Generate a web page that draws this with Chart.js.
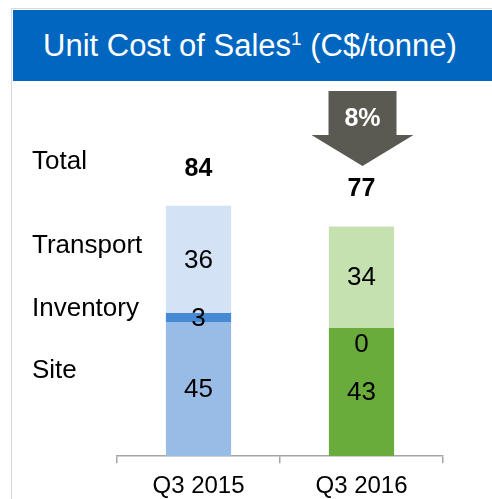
<!DOCTYPE html>
<html>
<head>
<meta charset="utf-8">
<script src="https://cdn.jsdelivr.net/npm/chart.js@4/dist/chart.umd.min.js"></script>
<style>
  html, body { margin: 0; padding: 0; background: #fff; }
  #wrap { position: relative; width: 492px; height: 499px; overflow: hidden; font-family: Arial, "Liberation Sans", sans-serif; }
  #frame { position: absolute; left: 11px; top: 8px; right: -2px; bottom: -2px; border-left: 1px solid #D9D9D9; border-top: 1px solid #D9D9D9; }
  #title { position: absolute; left: 13px; top: 10px; width: 479px; height: 71px; background: #0066BF; color: #fff;
           font-size: 31px; line-height: 71px; padding-left: 30px; box-sizing: border-box; white-space: nowrap; }
  #title sup { font-size: 19px; vertical-align: 0; position: relative; top: -11px; }
  #c { position: absolute; left: 0; top: 0; }
</style>
</head>
<body>
<div id="wrap">
  <div id="frame"></div>
  <canvas id="c" width="492" height="520"></canvas>
  <div id="title">Unit Cost of Sales<sup>1</sup> (C$/tonne)</div>
</div>
<script>
// ---- data ----
var categories = ['Q3 2015', 'Q3 2016'];
var site = [45, 43];
var inventory = [3, 0];
var transport = [36, 34];
var rowLabels = ['Total', 'Transport', 'Inventory', 'Site'];
var changeLabel = '8%';

// colours per bar (2015 blue, 2016 green)
var siteColors = ['#99BCE6', '#6AAC3C'];
var invColors = ['#4689D5', '#6AAC3C'];
var transColors = ['#D3E2F4', '#C6E1B0'];

var FONT = 'Arial, "Liberation Sans", sans-serif';
var INK = '#000';

// row captions on the left
var rowY = [162, 246, 309, 371];

var labelsPlugin = {
  id: 'labels',
  afterDatasetsDraw: function (chart) {
    var ctx = chart.ctx;
    ctx.save();
    ctx.textAlign = 'center';
    ctx.textBaseline = 'middle';
    ctx.fillStyle = INK;
    ctx.font = '26px ' + FONT;
    chart.data.datasets.forEach(function (ds, di) {
      chart.getDatasetMeta(di).data.forEach(function (bar, i) {
        var v = ds.data[i];
        var y = v === 0 ? bar.y + 16 : (bar.y + bar.base) / 2;
        ctx.fillText(String(v), bar.x, y + 1);
      });
    });
    // totals
    ctx.font = 'bold 25px ' + FONT;
    var top = chart.getDatasetMeta(chart.data.datasets.length - 1).data;
    categories.forEach(function (c, i) {
      var tot = site[i] + inventory[i] + transport[i];
      ctx.fillText(String(tot), top[i].x, top[i].y - 37);
    });
    // row captions
    ctx.textAlign = 'left';
    ctx.font = '26px ' + FONT;
    rowLabels.forEach(function (t, i) { ctx.fillText(t, 32, rowY[i]); });

    // decline arrow over second bar
    var b = top[1];
    var cx = b.x + 1;
    ctx.fillStyle = '#5A5A52';
    ctx.beginPath();
    ctx.moveTo(cx - 34, 91);
    ctx.lineTo(cx + 34, 91);
    ctx.lineTo(cx + 34, 135);
    ctx.lineTo(cx + 51, 135);
    ctx.lineTo(cx, 166);
    ctx.lineTo(cx - 51, 135);
    ctx.lineTo(cx - 34, 135);
    ctx.closePath();
    ctx.fill();
    ctx.fillStyle = '#fff';
    ctx.textAlign = 'center';
    ctx.font = 'bold 25px ' + FONT;
    ctx.fillText(changeLabel, cx, 119);
    ctx.restore();
  }
};

new Chart(document.getElementById('c'), {
  type: 'bar',
  data: {
    labels: categories,
    datasets: [
      { label: 'Site', data: site, backgroundColor: siteColors },
      { label: 'Inventory', data: inventory, backgroundColor: invColors },
      { label: 'Transport', data: transport, backgroundColor: transColors }
    ]
  },
  options: {
    responsive: false,
    animation: false,
    layout: { padding: { left: 117, right: 49, top: 158, bottom: 10 } },
    datasets: { bar: { barPercentage: 0.4, categoryPercentage: 1, borderWidth: 0 } },
    plugins: { legend: { display: false }, tooltip: { enabled: false } },
    scales: {
      x: {
        stacked: true,
        grid: { display: true, drawOnChartArea: false, drawTicks: true, tickLength: 7, color: '#A6A6A6', lineWidth: 1.5 },
        border: { display: true, color: '#A6A6A6', width: 1.5 },
        ticks: { color: INK, font: { family: FONT, size: 24 }, padding: 9 }
      },
      y: { stacked: true, display: false, min: 0, max: 100 }
    }
  },
  plugins: [labelsPlugin]
});
</script>
</body>
</html>
